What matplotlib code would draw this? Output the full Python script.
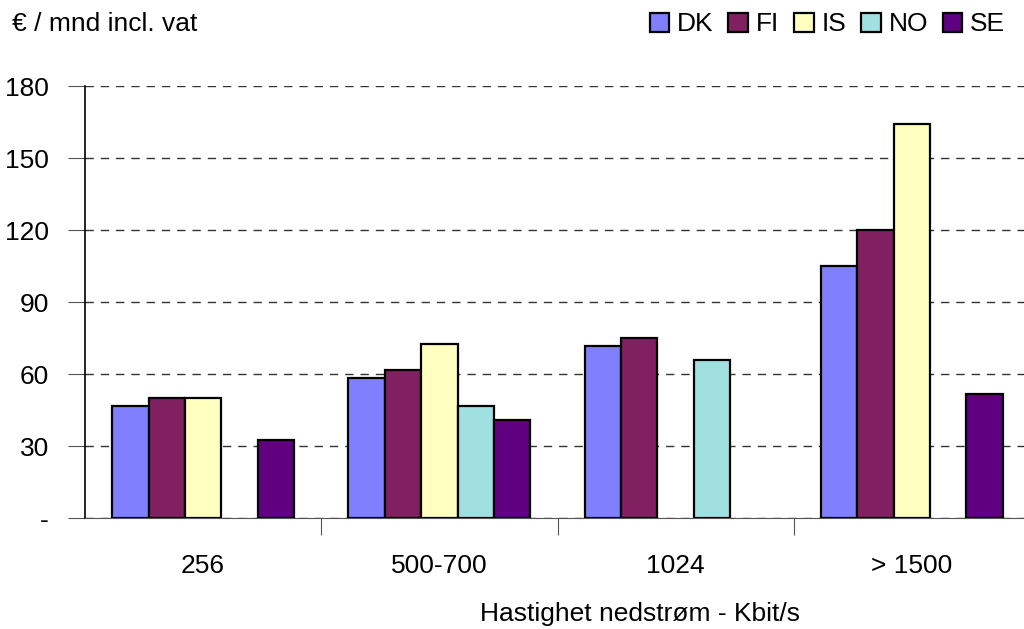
import matplotlib.pyplot as plt
import numpy as np

plt.rcParams['font.family'] = ['Liberation Sans Narrow', 'Liberation Sans', 'DejaVu Sans']

# price per month (EUR incl. vat) by download speed
speeds = ['256', '500-700', '1024', '> 1500']
countries = ['DK', 'FI', 'IS', 'NO', 'SE']
dk = [46.7, 58.3, 71.7, 105.2]
fi = [50.0, 61.7, 75.0, 120.0]
is_ = [50.0, 72.5, np.nan, 164.3]
no = [np.nan, 46.7, 65.8, np.nan]
se = [32.5, 40.8, np.nan, 51.7]
colors = ['#8080FF', '#802060', '#FFFFC0', '#A0E0E0', '#600080']

fig = plt.figure(figsize=(10.24, 6.29), dpi=100)
ax = fig.add_axes([85 / 1024, 1 - 518 / 629, 945 / 1024, 432 / 629])

x = np.arange(len(speeds))
w = 0.154
for i, (vals, c, name) in enumerate(zip([dk, fi, is_, no, se], colors, countries)):
    ax.bar(x + (i - 2) * w, vals, w, color=c, edgecolor='black', linewidth=1.6,
           label=name, zorder=3)

ax.set_xlim(-0.5, 3.5)
ax.set_ylim(0, 180)
ax.set_yticks(range(0, 181, 30))
ax.set_yticklabels(['-'] + [str(v) for v in range(30, 181, 30)], fontsize=19)
ax.yaxis.grid(True, linestyle=(0, (6, 5)), color='#333333', linewidth=1)
ax.set_axisbelow(True)

# category ticks sit between groups, labels centred under groups
ax.set_xticks([0.5, 1.5, 2.5, 3.5])
ax.set_xticklabels([])
ax.set_xticks(x, minor=True)
ax.set_xticklabels(speeds, minor=True, fontsize=19)
ax.tick_params(axis='x', which='minor', length=0, pad=26)
ax.tick_params(axis='x', which='major', length=12, direction='out', color='#555555')
ax.tick_params(axis='y', length=12, direction='out', pad=14, color='#555555')

for s in ['top', 'right']:
    ax.spines[s].set_visible(False)
ax.spines['left'].set_linewidth(1.2)
ax.spines['bottom'].set_color('#555555')

fig.text(12 / 1024, 1 - 24 / 629, '€ / mnd incl. vat', fontsize=19, va='center')
fig.text(640 / 1024, 1 - 614 / 629, 'Hastighet nedstrøm - Kbit/s', fontsize=19,
         ha='center', va='center')

leg = fig.legend(loc='upper right', bbox_to_anchor=(1.005, 1.018), ncol=5,
                 frameon=False, fontsize=19, handlelength=0.75, handleheight=0.75,
                 handletextpad=0.3, columnspacing=0.55)

fig.savefig('out.png', dpi=100)
